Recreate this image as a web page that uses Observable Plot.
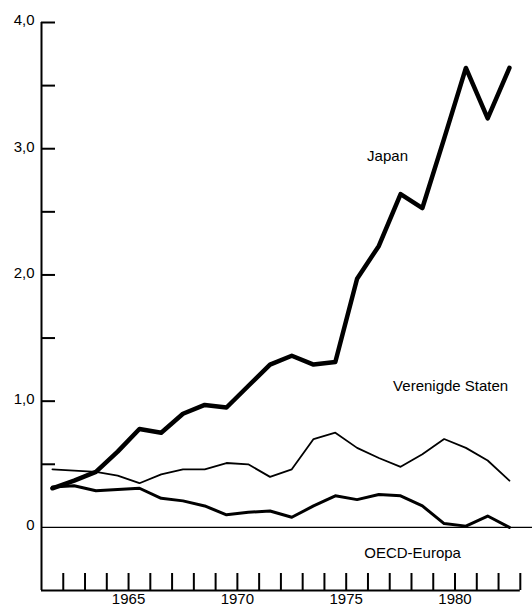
<!DOCTYPE html>
<html><head><meta charset="utf-8">
<script src="https://cdn.jsdelivr.net/npm/d3@7"></script>
<script src="https://cdn.jsdelivr.net/npm/@observablehq/plot@0.6"></script>
<style>
  html,body{margin:0;padding:0;background:#fff}
  #chart svg{display:block}
</style>
</head><body><div id="chart"></div>
<script>
// Years (data plotted at mid-year)
const years = [1961,1962,1963,1964,1965,1966,1967,1968,1969,1970,1971,1972,1973,1974,1975,1976,1977,1978,1979,1980,1981,1982];
const japan = [0.31,0.37,0.44,0.60,0.78,0.75,0.90,0.97,0.95,1.12,1.29,1.36,1.29,1.31,1.97,2.23,2.64,2.53,3.08,3.64,3.24,3.64];
const verenigdeStaten = [0.46,0.45,0.44,0.41,0.35,0.42,0.46,0.46,0.51,0.50,0.40,0.46,0.70,0.75,0.63,0.55,0.48,0.58,0.70,0.63,0.53,0.37];
const oecdEuropa = [0.32,0.33,0.29,0.30,0.31,0.23,0.21,0.17,0.10,0.12,0.13,0.08,0.17,0.25,0.22,0.26,0.25,0.17,0.03,0.01,0.09,0.00];

const yTickValues = [0.5,1,1.5,2,2.5,3,3.5,4];
const yLabelValues = [0,1,2,3,4];
const yLabelTexts = ["0","1,0","2,0","3,0","4,0"];
const xTickYears = [1962,1963,1964,1965,1966,1967,1968,1969,1970,1971,1972,1973,1974,1975,1976,1977,1978,1979,1980,1981,1982,1983];
const xLabelYears = [1965,1970,1975,1980];
const seriesNames = ["Japan","Verenigde Staten","OECD-Europa"];

const rows = vals => years.map((yr, i) => ({year: yr + 0.5, value: vals[i]}));

const font = "'Liberation Sans', Arial, Helvetica, sans-serif";

const chart = Plot.plot({
  width: 532,
  height: 610,
  marginLeft: 41,
  marginRight: 0,
  marginTop: 22,
  marginBottom: 20,
  x: {domain: [1961, 1983.56], axis: null},
  y: {domain: [-0.5, 4], axis: null},
  style: {fontFamily: font, fontSize: "15px", color: "#000", background: "#fff"},
  marks: [
    Plot.ruleY([0], {stroke: "#000", strokeWidth: 1.3}),
    Plot.ruleX([1961], {y1: -0.5, y2: 4, stroke: "#000", strokeWidth: 2}),
    Plot.ruleY([-0.5], {x1: 1961, x2: 1983, stroke: "#000", strokeWidth: 2}),
    Plot.axisY(yTickValues, {anchor: "left", label: null, tickSize: -14, strokeWidth: 2, tickFormat: () => ""}),
    Plot.axisY(yLabelValues, {anchor: "left", label: null, tickSize: 0, tickPadding: 7, dy: -2, fontSize: 15,
      tickFormat: d => yLabelTexts[yLabelValues.indexOf(d)]}),
    Plot.axisX(xTickYears, {anchor: "bottom", label: null, tickSize: -17, strokeWidth: 2, tickFormat: () => ""}),
    Plot.axisX(xLabelYears, {anchor: "bottom", label: null, tickSize: 0, tickPadding: 3, fontSize: 15, tickFormat: d => String(d)}),
    Plot.line(rows(oecdEuropa), {x: "year", y: "value", stroke: "#000", strokeWidth: 3, strokeLinejoin: "round"}),
    Plot.line(rows(verenigdeStaten), {x: "year", y: "value", stroke: "#000", strokeWidth: 1.8, strokeLinejoin: "round"}),
    Plot.line(rows(japan), {x: "year", y: "value", stroke: "#000", strokeWidth: 4.5, strokeLinejoin: "round"}),
    Plot.text([seriesNames[0]], {x: 1976.9, y: 2.94, text: d => d, fontSize: 15, textAnchor: "middle", fill: "#000"}),
    Plot.text([seriesNames[1]], {x: 1979.8, y: 1.12, text: d => d, fontSize: 15, textAnchor: "middle", fill: "#000"}),
    Plot.text([seriesNames[2]], {x: 1978.05, y: -0.205, text: d => d, fontSize: 15, textAnchor: "middle", fill: "#000"})
  ]
});
document.getElementById("chart").appendChild(chart);
</script>
</body></html>
